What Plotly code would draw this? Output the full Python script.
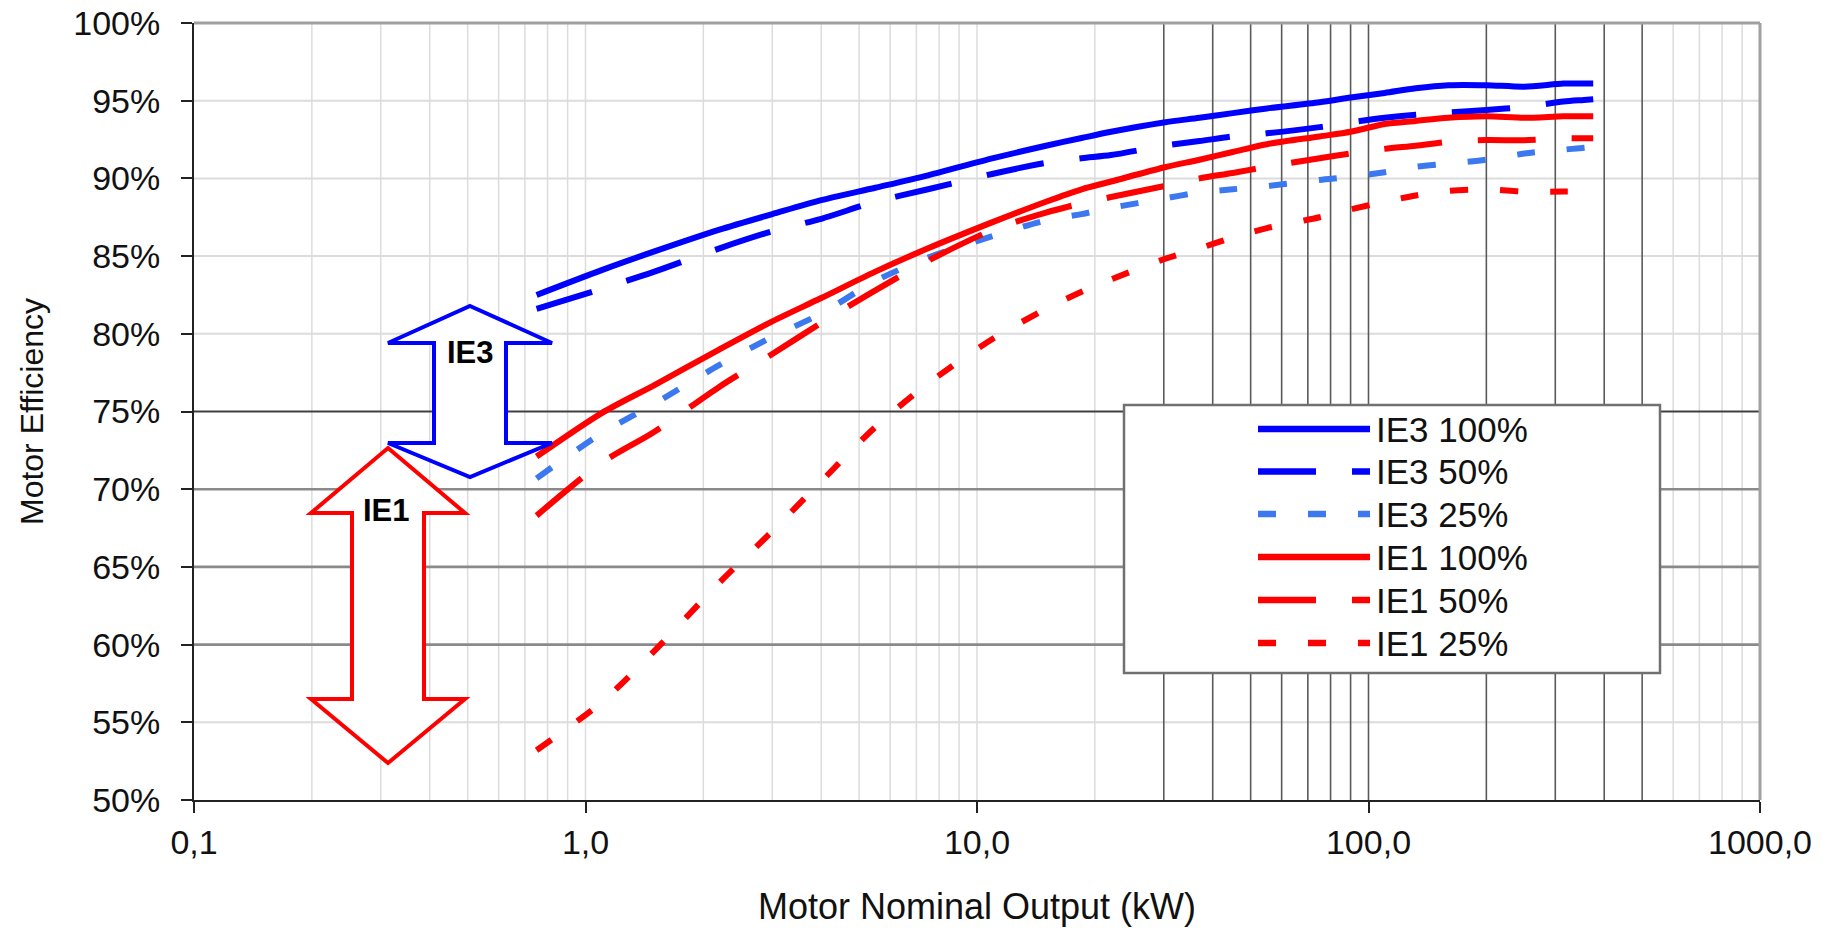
import plotly.graph_objects as go

# ---------------- data ----------------
kw = [0.75, 1.1, 1.5, 2.2, 3, 4, 5.5, 7.5, 11, 15, 18.5, 22, 30, 37, 45, 55,
      75, 90, 110, 132, 160, 200, 250, 315, 355, 375]

ie3_100 = [82.5, 84.1, 85.3, 86.7, 87.7, 88.6, 89.4, 90.2, 91.3, 92.1, 92.6, 93.0, 93.6,
           93.9, 94.2, 94.5, 94.9, 95.2, 95.5, 95.8, 96.0, 96.0, 95.9, 96.1, 96.1, 96.1]
ie3_50 = [81.6, 82.9, 84.0, 85.5, 86.6, 87.4, 88.5, 89.3, 90.3, 91.0, 91.3, 91.5, 92.1,
          92.4, 92.7, 92.9, 93.3, 93.6, 93.9, 94.1, 94.25, 94.4, 94.6, 94.95, 95.05, 95.1]
ie3_25 = [70.7, 73.6, 75.5, 78.0, 79.8, 81.3, 83.4, 84.9, 86.3, 87.3, 87.7, 88.1, 88.7,
          89.1, 89.3, 89.5, 89.9, 90.1, 90.4, 90.75, 90.95, 91.2, 91.6, 91.85, 91.97, 92.05]
ie1_100 = [72.1, 74.9, 76.7, 79.0, 80.8, 82.3, 84.0, 85.5, 87.2, 88.5, 89.3, 89.8, 90.7,
           91.2, 91.7, 92.2, 92.7, 93.0, 93.5, 93.7, 93.9, 94.0, 93.9, 94.0, 94.0, 94.0]
ie1_50 = [68.3, 71.7, 73.7, 76.6, 78.7, 80.7, 82.8, 84.7, 86.7, 87.8, 88.4, 88.8, 89.5,
          90.0, 90.35, 90.75, 91.3, 91.6, 91.9, 92.1, 92.35, 92.47, 92.45, 92.58, 92.58, 92.58]
ie1_25 = [53.2, 56.3, 59.6, 64.0, 67.3, 70.5, 74.0, 76.8, 79.7, 81.6, 82.7, 83.5, 84.8,
          85.5, 86.2, 86.8, 87.5, 88.0, 88.5, 88.9, 89.2, 89.3, 89.15, 89.15, 89.15, 89.15]

series_names = ["IE3 100%", "IE3 50%", "IE3 25%", "IE1 100%", "IE1 50%", "IE1 25%"]
series_values = [ie3_100, ie3_50, ie3_25, ie1_100, ie1_50, ie1_25]

x_tick_vals = [0.1, 1, 10, 100, 1000]
x_tick_text = ["0,1", "1,0", "10,0", "100,0", "1000,0"]
y_tick_vals = [0.50, 0.55, 0.60, 0.65, 0.70, 0.75, 0.80, 0.85, 0.90, 0.95, 1.00]

# grid line groups
light_x_lines = [0.2, 0.3, 0.4, 0.5, 0.6, 0.7, 0.8, 0.9, 1, 2, 3, 4, 5, 6, 7, 8, 9, 10, 20,
                 600, 700, 800, 900]
dark_x_lines = [30, 40, 50, 60, 70, 80, 90, 100, 200, 300, 400, 500]
light_y_lines = [0.55, 0.80, 0.85, 0.90, 0.95]
mid_y_lines = [0.60, 0.65, 0.70]
dark_y_lines = [0.75]

arrow_labels = ["IE3", "IE1"]

# ---------------- styles ----------------
series_colors = ["#0000FF", "#0000FF", "#3C78F0", "#FF0000", "#FF0000", "#FF0000"]
series_dash = ["solid", "58px,36px", "18px,32px", "solid", "58px,36px", "18px,32px"]
arrow_colors = ["#0000FF", "#FF0000"]
FONT = "Liberation Sans, Arial, sans-serif"

W, H = 1832, 930
ML, MR, MT, MB = 194, 72, 23, 130
PW, PH = W - ML - MR, H - MT - MB


def px(x):
    return (x - ML) / PW


def py(y):
    return (H - MB - y) / PH


fig = go.Figure()
for name, vals, col, dash in zip(series_names, series_values, series_colors, series_dash):
    fig.add_trace(go.Scatter(
        x=kw, y=[v / 100 for v in vals], name=name, mode="lines",
        line=dict(color=col, width=6, dash=dash, shape="spline", smoothing=0.8),
        showlegend=False,
    ))

shapes = []
for xv in light_x_lines:
    shapes.append(dict(type="line", xref="x", yref="paper", x0=xv, x1=xv, y0=0, y1=1,
                       line=dict(color="#dcdcdc", width=1.5), layer="below"))
for yv in light_y_lines:
    shapes.append(dict(type="line", xref="paper", yref="y", x0=0, x1=1, y0=yv, y1=yv,
                       line=dict(color="#dcdcdc", width=2), layer="below"))
for xv in dark_x_lines:
    shapes.append(dict(type="line", xref="x", yref="paper", x0=xv, x1=xv, y0=0, y1=1,
                       line=dict(color="#5a5a5a", width=1.6), layer="below"))
for yv in mid_y_lines:
    shapes.append(dict(type="line", xref="paper", yref="y", x0=0, x1=1, y0=yv, y1=yv,
                       line=dict(color="#8a8a8a", width=2.6), layer="below"))
for yv in dark_y_lines:
    shapes.append(dict(type="line", xref="paper", yref="y", x0=0, x1=1, y0=yv, y1=yv,
                       line=dict(color="#404040", width=2), layer="below"))
# top / right frame
shapes.append(dict(type="line", xref="paper", yref="paper", x0=0, x1=1, y0=1, y1=1,
                   line=dict(color="#a0a0a0", width=3)))
shapes.append(dict(type="line", xref="paper", yref="paper", x0=1, x1=1, y0=0, y1=1,
                   line=dict(color="#a0a0a0", width=3)))


def arrow_path(cx, top, base_top, base_bot, bottom, head_hw, shaft_hw):
    pts = [(cx, top), (cx + head_hw, base_top), (cx + shaft_hw, base_top),
           (cx + shaft_hw, base_bot), (cx + head_hw, base_bot), (cx, bottom),
           (cx - head_hw, base_bot), (cx - shaft_hw, base_bot), (cx - shaft_hw, base_top),
           (cx - head_hw, base_top)]
    return "M" + " L".join(f"{px(a):.5f},{py(b):.5f}" for a, b in pts) + " Z"


arrow_geo = [(470, 306, 343, 443, 477, 82, 36), (388, 448, 513, 699, 763, 77, 36)]
label_pos = [(470, 352), (386, 511)]
annotations = []
for geo, col, lab, (lx, ly) in zip(arrow_geo, arrow_colors, arrow_labels, label_pos):
    shapes.append(dict(type="path", xref="paper", yref="paper", path=arrow_path(*geo),
                       fillcolor="white", line=dict(color=col, width=4), layer="above"))
    annotations.append(dict(xref="paper", yref="paper", x=px(lx), y=py(ly), text=f"<b>{lab}</b>",
                            showarrow=False, font=dict(family=FONT, size=31, color="#000000"),
                            xanchor="center", yanchor="middle"))

# legend box drawn to match the reference's wide sample lines
shapes.append(dict(type="rect", xref="paper", yref="paper", x0=px(1124), x1=px(1660),
                   y0=py(673), y1=py(405), fillcolor="white",
                   line=dict(color="#707070", width=2.5), layer="above"))
row_y = [429, 471.5, 514, 557, 600, 643]
for name, col, dash, ry in zip(series_names, series_colors, series_dash, row_y):
    shapes.append(dict(type="line", xref="paper", yref="paper", x0=px(1258), x1=px(1370),
                       y0=py(ry), y1=py(ry), line=dict(color=col, width=6.5, dash=dash),
                       layer="above"))
    annotations.append(dict(xref="paper", yref="paper", x=px(1374), y=py(ry), text=name,
                            showarrow=False, font=dict(family=FONT, size=35, color="#111111"),
                            xanchor="left", yanchor="middle"))

fig.update_layout(
    width=W, height=H,
    margin=dict(l=ML, r=MR, t=MT, b=MB, autoexpand=False),
    paper_bgcolor="white", plot_bgcolor="rgba(0,0,0,0)",
    font=dict(family=FONT, color="#111111"),
    shapes=shapes, annotations=annotations,
    showlegend=False,
)
fig.update_xaxes(
    type="log", range=[-1, 3], automargin=False,
    tickvals=x_tick_vals, ticktext=x_tick_text,
    tickfont=dict(size=34, family=FONT, color="#111111"),
    ticks="outside", ticklen=11, tickwidth=2, tickcolor="#222222",
    ticklabelstandoff=0,
    showline=True, linecolor="#222222", linewidth=2,
    showgrid=False,
    title=dict(text="Motor Nominal Output (kW)", font=dict(size=36, family=FONT, color="#111111"),
               standoff=34),
    zeroline=False,
)
fig.update_yaxes(
    range=[0.5, 1.0], tickvals=y_tick_vals, tickformat=".0%", automargin=False,
    tickfont=dict(size=34, family=FONT, color="#111111"),
    ticks="outside", ticklen=11, tickwidth=2, tickcolor="#222222",
    ticklabelstandoff=14,
    showline=True, linecolor="#222222", linewidth=2,
    showgrid=False,
    title=dict(text="Motor Efficiency", font=dict(size=32, family=FONT, color="#111111"),
               standoff=20),
    zeroline=False,
)

fig.write_html("out.html", config={"displayModeBar": False},
               post_script="document.body.style.margin='0px';")
